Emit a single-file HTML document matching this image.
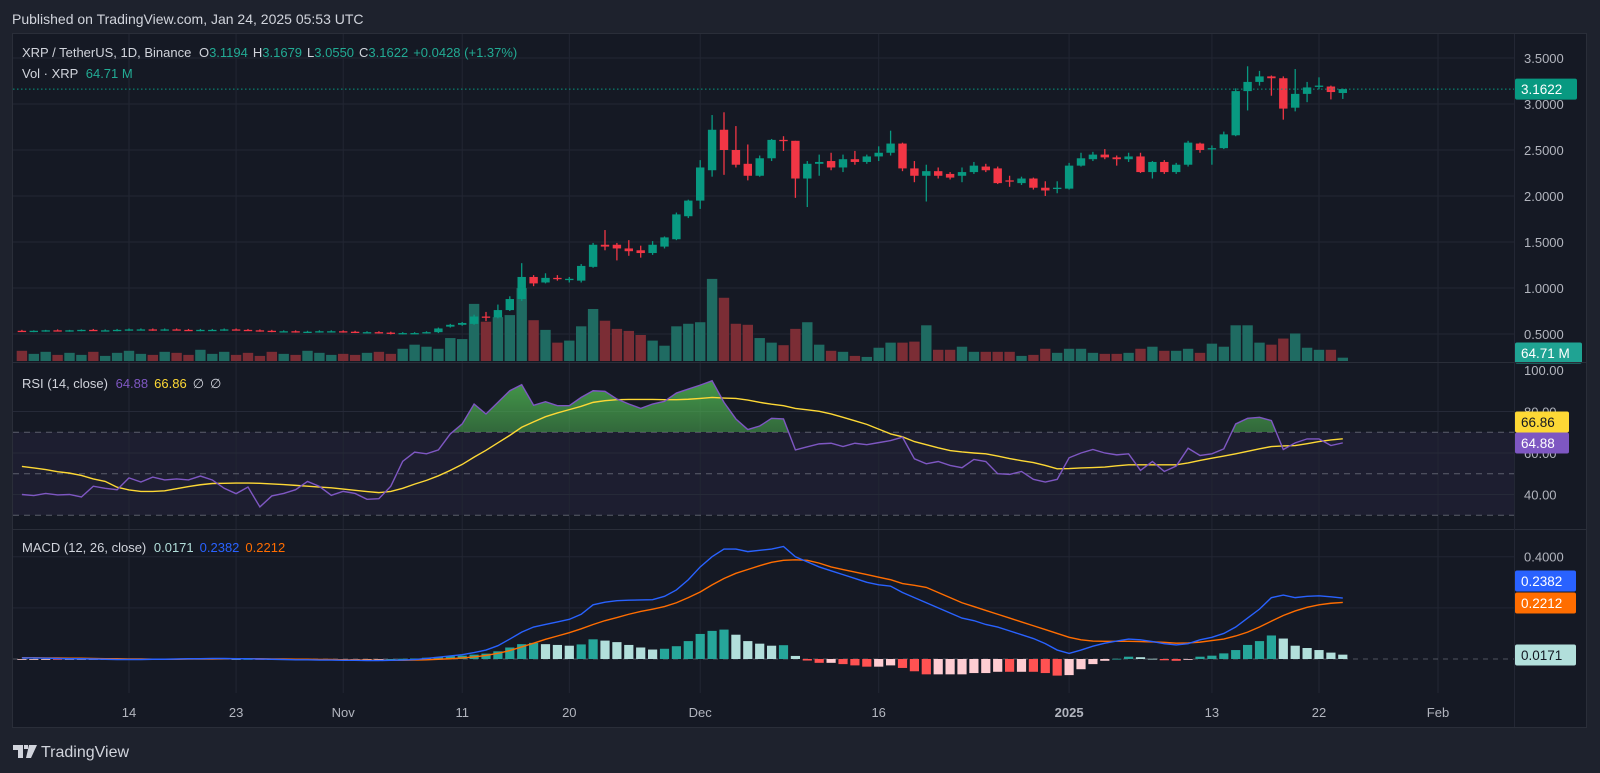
<!DOCTYPE html>
<html><head><meta charset="utf-8">
<style>
html,body{margin:0;padding:0;background:#1e222d;width:1600px;height:773px;overflow:hidden}
svg{display:block;font-family:"Liberation Sans",sans-serif}
</style></head>
<body>
<svg id="chart" width="1600" height="773" viewBox="0 0 1600 773">
<defs>
<linearGradient id="rsiGrad" x1="0" y1="0" x2="0" y2="1"><stop offset="0" stop-color="#4caf50" stop-opacity="0.85"/><stop offset="1" stop-color="#4caf50" stop-opacity="0.05"/></linearGradient>
<clipPath id="rsiClip"><rect x="13" y="362" width="1501" height="70"/></clipPath>
</defs>
<rect x="0" y="0" width="1600" height="773" fill="#1e222d"/>
<text x="12" y="24" fill="#d1d4dc" font-size="14">Published on TradingView.com, Jan 24, 2025 05:53 UTC</text>
<rect x="12.5" y="33.5" width="1574" height="694" fill="#151924" stroke="#2a2e39"/>
<rect x="13" y="432" width="1501" height="83" fill="#7e57c2" fill-opacity="0.08"/>
<g id="grid"></g>
<g id="volume"></g>
<g id="candles"></g>
<g id="rsi"></g>
<g id="macd"></g>
<g id="axes"></g>
<line x1="13" y1="362.5" x2="1586" y2="362.5" stroke="#2a2e39"/>
<line x1="13" y1="529.5" x2="1586" y2="529.5" stroke="#2a2e39"/>
<line x1="1514.5" y1="34" x2="1514.5" y2="727" stroke="#232734"/>
<g font-size="13">
<text x="22" y="57" fill="#d1d4dc">XRP / TetherUS, 1D, Binance <tspan dx="4">O</tspan><tspan fill="#22ab94">3.1194</tspan><tspan dx="5">H</tspan><tspan fill="#22ab94">3.1679</tspan><tspan dx="5">L</tspan><tspan fill="#22ab94">3.0550</tspan><tspan dx="5">C</tspan><tspan fill="#22ab94">3.1622</tspan><tspan dx="5" fill="#22ab94">+0.0428 (+1.37%)</tspan></text>
<text x="22" y="78" fill="#d1d4dc">Vol · XRP <tspan dx="4" fill="#22ab94">64.71 M</tspan></text>
</g>
<text x="22" y="388" font-size="13" fill="#d1d4dc">RSI (14, close) <tspan dx="4" fill="#7e57c2">64.88</tspan><tspan dx="6" fill="#fdd835">66.86</tspan><tspan dx="6">∅</tspan><tspan dx="6">∅</tspan></text>
<text x="22" y="552" font-size="13" fill="#d1d4dc">MACD (12, 26, close) <tspan dx="4" fill="#b2dfdb">0.0171</tspan><tspan dx="6" fill="#2962ff">0.2382</tspan><tspan dx="6" fill="#ff6d00">0.2212</tspan></text>
<g>
<path d="M13 745h10v13h-5v-8h-5z M24 745h4v4h-4z M29 745h8l-6 13h-5z" fill="#d1d4dc"/>
<text x="41" y="757" font-size="16" fill="#d1d4dc">TradingView</text>
</g>
</svg>
<script>
const opens=[0.535,0.53,0.535,0.54,0.535,0.54,0.545,0.54,0.54,0.545,0.55,0.55,0.545,0.55,0.545,0.54,0.545,0.545,0.55,0.545,0.54,0.535,0.53,0.53,0.525,0.525,0.53,0.53,0.525,0.52,0.52,0.515,0.505,0.51,0.51,0.52,
0.58,0.60,0.61,0.69,0.68,0.76,0.88,1.12,1.06,1.11,1.09,1.08,1.23,1.47,1.47,1.43,1.41,1.38,1.45,1.53,1.78,1.95,2.28,2.72,2.50,2.35,2.22,2.41,2.61,2.60,2.19,2.35,2.38,2.31,2.40,2.37,2.43,2.47,2.57,2.30,2.22,2.27,2.24,
2.22,2.26,2.32,2.30,2.17,2.14,2.19,2.09,2.08,2.08,2.33,2.40,2.45,2.42,2.40,2.43,2.26,2.37,2.26,2.34,2.57,2.52,2.52,2.66,3.14,3.24,3.30,3.28,2.96,3.11,3.19,3.19,3.1194];
const highs=[0.545,0.54,0.545,0.55,0.545,0.55,0.555,0.55,0.555,0.56,0.56,0.56,0.56,0.56,0.555,0.555,0.555,0.56,0.56,0.555,0.55,0.545,0.54,0.54,0.535,0.54,0.54,0.54,0.535,0.53,0.53,0.525,0.52,0.52,0.53,0.57,
0.61,0.63,0.71,0.74,0.82,0.91,1.27,1.14,1.16,1.14,1.12,1.26,1.49,1.63,1.49,1.52,1.46,1.51,1.56,1.82,1.96,2.39,2.88,2.91,2.76,2.56,2.44,2.62,2.65,2.60,2.38,2.45,2.47,2.45,2.49,2.45,2.54,2.71,2.58,2.38,2.34,2.31,2.26,
2.31,2.37,2.35,2.32,2.22,2.21,2.20,2.16,2.16,2.36,2.47,2.48,2.51,2.44,2.47,2.47,2.38,2.39,2.36,2.60,2.58,2.55,2.70,3.17,3.41,3.36,3.31,3.30,3.38,3.24,3.29,3.20,3.1679];
const lows=[0.525,0.52,0.525,0.53,0.525,0.53,0.535,0.53,0.53,0.535,0.54,0.535,0.535,0.54,0.535,0.53,0.535,0.535,0.54,0.535,0.525,0.52,0.52,0.515,0.515,0.515,0.52,0.515,0.51,0.51,0.505,0.495,0.495,0.50,0.505,0.51,
0.57,0.59,0.60,0.64,0.67,0.75,0.86,1.02,1.05,1.08,1.06,1.06,1.22,1.41,1.30,1.35,1.33,1.36,1.43,1.52,1.76,1.86,2.21,2.23,2.31,2.17,2.21,2.38,2.49,1.98,1.88,2.22,2.28,2.26,2.34,2.35,2.38,2.44,2.27,2.15,1.94,2.19,2.18,
2.15,2.24,2.26,2.13,2.10,2.12,2.07,2.00,2.03,2.07,2.32,2.38,2.40,2.33,2.37,2.25,2.19,2.24,2.24,2.32,2.47,2.34,2.51,2.65,2.93,3.20,3.09,2.83,2.92,3.02,3.16,3.05,3.055];
const closes=[0.53,0.535,0.54,0.535,0.54,0.545,0.54,0.54,0.545,0.55,0.55,0.545,0.55,0.545,0.54,0.545,0.545,0.55,0.545,0.54,0.535,0.53,0.53,0.525,0.525,0.53,0.53,0.525,0.52,0.52,0.515,0.505,0.51,0.51,0.52,0.56,
0.60,0.62,0.69,0.68,0.76,0.88,1.12,1.05,1.11,1.10,1.10,1.24,1.47,1.45,1.43,1.40,1.38,1.47,1.55,1.80,1.95,2.31,2.72,2.50,2.34,2.22,2.41,2.61,2.60,2.19,2.35,2.37,2.31,2.40,2.37,2.43,2.47,2.57,2.30,2.22,2.27,2.22,2.20,
2.26,2.33,2.28,2.14,2.16,2.19,2.09,2.06,2.09,2.33,2.41,2.45,2.42,2.40,2.43,2.26,2.37,2.26,2.34,2.58,2.50,2.52,2.67,3.14,3.24,3.30,3.28,2.95,3.11,3.18,3.20,3.13,3.1622];
const volumes=[200,140,180,120,160,120,180,100,160,200,140,120,180,160,120,220,140,180,120,160,100,180,140,120,200,160,120,140,120,160,180,140,240,320,280,240,
450,430,1120,770,860,900,1430,800,610,360,400,680,1020,790,630,590,510,400,300,680,730,760,1610,1240,730,710,450,360,310,630,
760,320,200,180,100,80,260,360,360,380,700,220,220,
280,180,180,180,180,100,120,240,160,240,240,160,140,140,160,240,280,200,200,240,160,340,280,700,700,360,320,440,540,260,220,220,65];
const rsiVals=[40,39.5,40.5,39.8,40,38.8,44,43,42.3,48,46,48.4,47,47.5,47,48.9,47,43,40.4,43.6,34,39.3,40.5,42.3,46.3,43.9,39.6,41.5,40.5,37.7,38,44,56,60.4,59.6,61.5,69.2,74,83.6,
78.8,84.4,90,92.9,83,84.7,82.8,82.8,86.8,90,89.7,86,83.6,81.5,83.6,84.9,88.9,90.8,92.7,94.8,84.4,76.4,71.3,73,76.7,76.4,61.5,63,64.4,64.7,63.1,64.7,64,65,66,67.6,57.2,54.8,55.9,54,52.9,
56.9,55.9,50,49.7,51.1,47.3,46,47.3,57.7,60,61.7,60,59.1,59.6,51.6,55.9,51.1,53.7,62.3,58.8,59.6,62,74,76.7,77.2,75.6,61.7,64.9,66.8,66.8,63.6,64.88];
const rsiMA=[53.5,52.8,52,51,50.3,49.2,47.5,46.3,43.5,42.2,41.5,41.5,41.8,42.8,43.8,44.7,45.3,45.4,45.5,45.5,45.4,45.1,44.8,44.4,44,43.6,43.2,42.6,42,41.4,40.9,41.5,43,45,46.8,49,51.6,54.5,58,
61.3,64.9,68.5,72.4,75,77.5,79.3,80.9,82.5,84.4,85.2,85.7,85.8,85.8,85.8,85.7,85.7,85.9,86.3,86.8,86.5,86.3,85.5,84.4,83.5,82.8,81.5,80.8,80.1,78.8,77.2,75.5,73.8,71.5,69.2,67.8,65.5,64,62.5,61.2,60.5,
60,59.6,58.5,57.3,56.3,55.4,54,52.4,52.5,52.8,53,53.2,53.8,54.3,54.3,54.3,54.3,54.3,55.2,56.4,57.5,58.5,59.6,60.8,62,63.1,63.4,63.6,64.5,65.5,66.3,66.86];
const macdVals=[0.004,0.004,0.003,0.002,0.001,0.001,0,-0.001,-0.002,-0.002,-0.002,-0.001,-0.001,0,0.001,0.001,0.002,0.002,0.001,0.001,0,-0.001,-0.002,-0.003,-0.003,-0.004,-0.004,-0.005,-0.005,-0.006,-0.006,-0.005,-0.004,-0.002,0.002,0.007,
0.012,0.017,0.025,0.035,0.052,0.078,0.105,0.125,0.135,0.145,0.155,0.175,0.212,0.222,0.228,0.23,0.231,0.232,0.245,0.27,0.31,0.36,0.40,0.43,0.43,0.42,0.425,0.43,0.44,0.40,0.38,0.36,0.345,0.33,0.315,0.30,0.29,0.285,0.26,0.24,0.22,
0.20,0.18,0.16,0.15,0.135,0.125,0.11,0.095,0.08,0.06,0.035,0.022,0.035,0.05,0.062,0.07,0.078,0.075,0.068,0.06,0.055,0.06,0.075,0.085,0.10,0.125,0.16,0.195,0.24,0.25,0.24,0.245,0.247,0.243,0.2382];
const signalVals=[0.005,0.005,0.004,0.004,0.003,0.003,0.002,0.001,0.001,0,0,-0.001,-0.001,-0.001,0,0,0,0.001,0.001,0.001,0.001,0,0,-0.001,-0.001,-0.002,-0.002,-0.003,-0.003,-0.004,-0.005,-0.005,-0.005,-0.004,-0.003,-0.001,
0.001,0.004,0.008,0.014,0.022,0.033,0.047,0.062,0.077,0.09,0.103,0.118,0.135,0.15,0.162,0.175,0.186,0.195,0.205,0.22,0.24,0.262,0.29,0.315,0.335,0.35,0.365,0.378,0.386,0.388,0.386,0.375,0.36,0.35,0.34,0.33,0.32,0.31,0.295,0.288,0.28,
0.26,0.24,0.22,0.205,0.19,0.175,0.16,0.145,0.13,0.115,0.10,0.085,0.075,0.07,0.069,0.069,0.069,0.068,0.067,0.065,0.062,0.063,0.066,0.072,0.078,0.09,0.105,0.125,0.148,0.17,0.188,0.202,0.212,0.218,0.2212];
const priceTicks=[3.5,3.0,2.5,2.0,1.5,1.0,0.5];
const rsiTicks=[100,80,60,40];
const macdTicks=[0.4,0.2];
const timeLabels=["14","23","Nov","11","20","Dec","16","2025","13","22","Feb"];
const timeIdx=[9,18,27,37,46,57,72,88,100,109,119];

const NS="http://www.w3.org/2000/svg";
function mk(tag,attrs,parent){const e=document.createElementNS(NS,tag);for(const k in attrs)e.setAttribute(k,attrs[k]);parent.appendChild(e);return e;}
const xOf=i=>129+(i-9)*11.9;
const yP=p=>104+(3.0-p)*92;
const yV=v=>361-v/20*1.02;
const yR=v=>370+(100-v)*2.075;
const yM=v=>659-v*255.7;
const G=document.getElementById('grid'),V=document.getElementById('volume'),C=document.getElementById('candles'),R=document.getElementById('rsi'),M=document.getElementById('macd'),A=document.getElementById('axes');

timeIdx.forEach((ti,k)=>{const x=xOf(ti);
 const l=mk('line',{x1:x,y1:34,x2:x,y2:693,stroke:'#222633'},G);
 
 
 const t=mk('text',{x:x,y:717,'text-anchor':'middle','font-size':13,fill:'#b2b5be','font-weight':timeLabels[k]==='2025'?'bold':'normal'},A);
 t.textContent=timeLabels[k];
 
 
});
priceTicks.forEach(p=>{const y=yP(p);
 const l=mk('line',{x1:13,y1:y,x2:1514,y2:y,stroke:'#222633'},G);
 
 
 const t=mk('text',{x:1524,y:y+5,'font-size':13,fill:'#b2b5be'},A);
 t.textContent=p.toFixed(4);
 
 
});
rsiTicks.forEach(v=>{const y=yR(v);
 if(v<100){const l=mk('line',{x1:13,y1:y,x2:1514,y2:y,stroke:'#262a38'},G);
 
 }
 const t=mk('text',{x:1524,y:y+5,'font-size':13,fill:'#b2b5be'},A);
 t.textContent=v.toFixed(2);
 
 
});
[70,50,30].forEach(v=>{const l=mk('line',{x1:13,y1:yR(v),x2:1514,y2:yR(v),stroke:'#787b86','stroke-dasharray':'6 5','stroke-opacity':0.7},G);
 
 });
macdTicks.forEach(v=>{const y=yM(v);
 const l=mk('line',{x1:13,y1:y,x2:1514,y2:y,stroke:'#222633'},G);
 
 
 const t=mk('text',{x:1524,y:y+5,'font-size':13,fill:'#b2b5be'},A);
 t.textContent=v.toFixed(4);
 
 
});
const z=mk('line',{x1:13,y1:yM(0),x2:1514,y2:yM(0),stroke:'#787b86','stroke-dasharray':'5 5','stroke-opacity':0.6},G);



closes.forEach((c,i)=>{const o=opens[i],x=xOf(i),up=c>=o;
 const vy=yV(volumes[i]);
 const vb=mk('rect',{x:x-5.2,y:vy,width:10.4,height:361-vy,fill:up?'#1f6b62':'#7b2d35'},V);
 
 
 const col=up?'#089981':'#f23645';
 const w=mk('line',{x1:x,y1:yP(highs[i]),x2:x,y2:yP(lows[i]),stroke:col,'stroke-width':1.3},C);
 
 
 const top=yP(Math.max(o,c)),bh=Math.max(1.3,Math.abs(yP(o)-yP(c)));
 const b=mk('rect',{x:x-4.2,y:top,width:8.4,height:bh,fill:col},C);
 
 
});
const last=closes[closes.length-1];
const pl=mk('line',{x1:13,y1:yP(last),x2:1514,y2:yP(last),stroke:'#089981','stroke-dasharray':'1.5 2.5'},C);



const rpts=rsiVals.map((v,i)=>xOf(i)+','+yR(v));
const fill=mk('polygon',{points:xOf(0)+','+yR(70)+' '+rpts.join(' ')+' '+xOf(rsiVals.length-1)+','+yR(70),fill:'url(#rsiGrad)','clip-path':'url(#rsiClip)'},R);


const ma=mk('polyline',{points:rsiMA.map((v,i)=>xOf(i)+','+yR(v)).join(' '),fill:'none',stroke:'#fdd835','stroke-width':1.4},R);


const rl=mk('polyline',{points:rpts.join(' '),fill:'none',stroke:'#7e57c2','stroke-width':1.4},R);



macdVals.forEach((m,i)=>{const h=m-signalVals[i];const ph=i>0?macdVals[i-1]-signalVals[i-1]:h;
 const col=h>=0?(h>=ph?'#26a69a':'#b2dfdb'):(h<ph?'#ff5252':'#ffcdd2');
 const y0=yM(0),y1=yM(h);
 const r=mk('rect',{x:xOf(i)-4.6,y:Math.min(y0,y1),width:9.2,height:Math.max(0.8,Math.abs(y1-y0)),fill:col},M);
 
 
});
const sl=mk('polyline',{points:signalVals.map((v,i)=>xOf(i)+','+yM(v)).join(' '),fill:'none',stroke:'#ff6d00','stroke-width':1.4},M);


const ml=mk('polyline',{points:macdVals.map((v,i)=>xOf(i)+','+yM(v)).join(' '),fill:'none',stroke:'#2962ff','stroke-width':1.4},M);



function badge(y,txt,bg,fg,name,w){
 const g=mk('g',{},A);
 
 
 mk('rect',{x:1515,y:y-10.5,width:w,height:21,rx:2,fill:bg},g);
 const t=mk('text',{x:1521,y:y+5,'font-size':13.5,fill:fg},g);t.textContent=txt;
}
badge(yP(last),'3.1622','#089981','#fff','last-price-badge',62);
badge(353,'64.71 M','#1fa393','#fff','volume-badge',67);
badge(422,'66.86','#fdd835','#131722','rsi-ma-badge',54);
badge(443,'64.88','#7e57c2','#fff','rsi-badge',54);
badge(581,'0.2382','#2962ff','#fff','macd-badge',61);
badge(603,'0.2212','#ff6d00','#fff','signal-badge',61);
badge(655,'0.0171','#b2dfdb','#131722','histogram-badge',61);
</script>
</body></html>
